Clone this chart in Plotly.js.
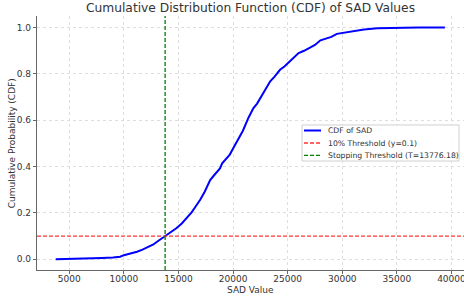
<!DOCTYPE html>
<html>
<head>
<meta charset="utf-8">
<script src="https://cdn.plot.ly/plotly-3.0.1.min.js"></script>
<style>html,body{margin:0;padding:0;background:#fff;}#chart{width:464px;height:299px;}</style>
</head>
<body>
<div id="chart"></div>
<script>
const sadValues = [3755, 5000, 6500, 8000, 9000, 9650, 10000, 10600, 11200, 11700, 12200, 12700, 13000, 13400, 13776, 14200, 14800, 15300, 15750, 16200, 16600, 17000, 17400, 17900, 18300, 18800, 19000, 19400, 19700, 20000, 20400, 20900, 21400, 21850, 22200, 22600, 23000, 23400, 23800, 24300, 24700, 25050, 25500, 26000, 26500, 27000, 27500, 28000, 28500, 29000, 29500, 30000, 31000, 32000, 33200, 35000, 37000, 39400];
const cdfValues = [0.0, 0.001, 0.003, 0.006, 0.008, 0.011, 0.018, 0.025, 0.033, 0.042, 0.052, 0.064, 0.075, 0.088, 0.1, 0.114, 0.134, 0.155, 0.177, 0.203, 0.23, 0.258, 0.292, 0.342, 0.365, 0.392, 0.414, 0.435, 0.452, 0.478, 0.51, 0.555, 0.61, 0.652, 0.672, 0.702, 0.738, 0.768, 0.788, 0.818, 0.832, 0.847, 0.866, 0.89, 0.9, 0.912, 0.925, 0.945, 0.952, 0.96, 0.973, 0.977, 0.987, 0.992, 0.997, 0.999, 1.0, 1.0];
const thresholdY = 0.1;
const stoppingT = 13776.18;
const xRange = [2040, 41150];
const yRange = [-0.046, 1.05];
const xTicks = [5000, 10000, 15000, 20000, 25000, 30000, 35000, 40000];
const yTicks = [0.0, 0.2, 0.4, 0.6, 0.8, 1.0];
const legendNames = ['CDF of SAD', '10% Threshold (y=0.1)', 'Stopping Threshold (T=13776.18)'];
const xTitle = 'SAD Value';
const yTitle = 'Cumulative Probability (CDF)';

const font = 'DejaVu Sans, sans-serif';
const blue = '#0000ff', red = '#ff3333', green = '#008000';
const colors = [blue, red, green];
const dashes = ['solid', '4px,2px', '4px,2px'];
const widths = [2, 1.3, 1.3];

const traces = [
  {x: sadValues, y: cdfValues, mode: 'lines', name: legendNames[0],
   line: {color: blue, width: widths[0]}},
  {x: xRange, y: [thresholdY, thresholdY], mode: 'lines', name: legendNames[1],
   line: {color: red, width: widths[1], dash: dashes[1]}},
  {x: [stoppingT, stoppingT], y: yRange, mode: 'lines', name: legendNames[2],
   line: {color: green, width: widths[2], dash: dashes[2]}}
];

// custom legend (box, samples, labels) in paper coordinates
const lg = {x0: 0.6206, x1: 0.9883, y0: 0.4291, y1: 0.5709, rows: [0.5492, 0.5000, 0.4516], sx0: 0.6253, sx1: 0.6651, tx: 0.6768};
const shapes = [{type: 'rect', xref: 'paper', yref: 'paper', x0: lg.x0, x1: lg.x1, y0: lg.y0, y1: lg.y1,
  fillcolor: 'rgba(255,255,255,0.9)', line: {color: '#d0d0d0', width: 1}, layer: 'above'}];
const annotations = [];
legendNames.forEach((n, i) => {
  shapes.push({type: 'line', xref: 'paper', yref: 'paper', x0: lg.sx0, x1: lg.sx1, y0: lg.rows[i], y1: lg.rows[i],
    line: {color: colors[i], width: widths[i], dash: dashes[i]}, layer: 'above'});
  annotations.push({xref: 'paper', yref: 'paper', x: lg.tx, y: lg.rows[i], xanchor: 'left', yanchor: 'middle',
    text: n, showarrow: false, font: {family: font, size: 7.7, color: '#333'}});
});
// axis titles
annotations.push({xref: 'paper', yref: 'paper', x: 0.5, y: -0.0787, xanchor: 'center', yanchor: 'middle',
  text: xTitle, showarrow: false, font: {family: font, size: 9, color: '#333'}});
annotations.push({xref: 'paper', yref: 'paper', x: -0.0578, y: 0.5, xanchor: 'center', yanchor: 'middle', textangle: -90,
  text: yTitle, showarrow: false, font: {family: font, size: 9, color: '#333'}});

const layout = {
  width: 464, height: 299,
  margin: {l: 37, r: 0, t: 16, b: 29},
  paper_bgcolor: '#fff', plot_bgcolor: '#fff',
  font: {family: font, color: '#333', size: 9},
  title: {text: 'Cumulative Distribution Function (CDF) of SAD Values', font: {family: font, size: 12.25, color: '#333'},
    xref: 'paper', x: 0.5, xanchor: 'center', yref: 'container', y: 0.973, yanchor: 'middle'},
  showlegend: false,
  shapes: shapes,
  annotations: annotations,
  xaxis: {range: xRange, tickvals: xTicks, ticktext: xTicks.map(String), showgrid: true, gridcolor: '#d6d6d6', griddash: 'dot', gridwidth: 0.8,
    showline: true, linecolor: '#666', linewidth: 1.1, ticks: 'outside', ticklen: 3, tickcolor: '#666', zeroline: false, automargin: false,
    ticklabeloverflow: 'allow', ticklabelstandoff: -3,
    tickfont: {family: font, size: 9, color: '#333'}},
  yaxis: {range: yRange, tickvals: yTicks, ticktext: yTicks.map(v => v.toFixed(1)), showgrid: true, gridcolor: '#d6d6d6', griddash: 'dot', gridwidth: 0.8,
    showline: true, linecolor: '#666', linewidth: 1.1, ticks: 'outside', ticklen: 3, tickcolor: '#666', zeroline: false, automargin: false,
    tickfont: {family: font, size: 9, color: '#333'}}
};
Plotly.newPlot('chart', traces, layout, {displayModeBar: false, staticPlot: true});
</script>
</body>
</html>
